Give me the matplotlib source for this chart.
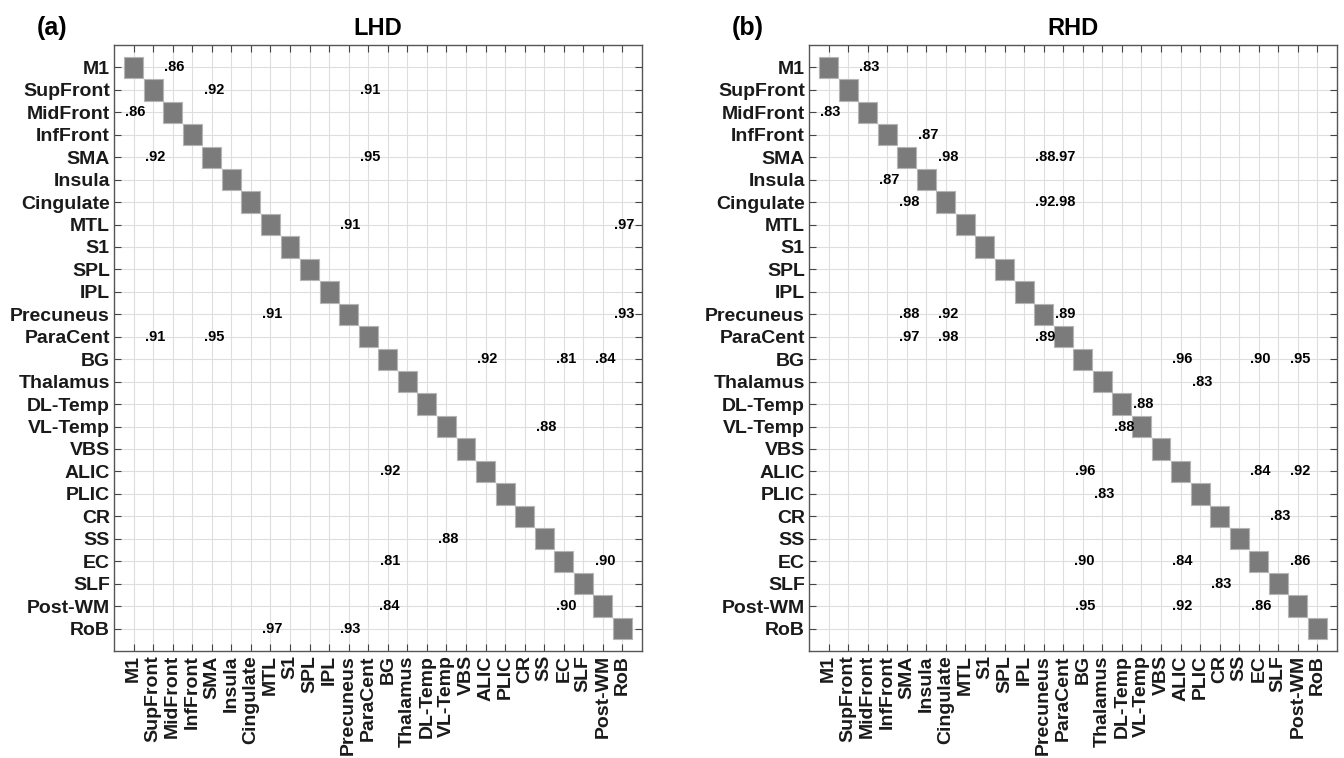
import matplotlib.pyplot as plt
from matplotlib.patches import Rectangle

plt.rcParams['font.family'] = ['Liberation Sans', 'DejaVu Sans']

regions = ['M1', 'SupFront', 'MidFront', 'InfFront', 'SMA', 'Insula', 'Cingulate',
           'MTL', 'S1', 'SPL', 'IPL', 'Precuneus', 'ParaCent', 'BG', 'Thalamus',
           'DL-Temp', 'VL-Temp', 'VBS', 'ALIC', 'PLIC', 'CR', 'SS', 'EC', 'SLF',
           'Post-WM', 'RoB']

# significant correlations (region, region, r) - drawn on both sides of the diagonal
lhd_pairs = [
    ('M1', 'MidFront', .86),
    ('SupFront', 'SMA', .92),
    ('SupFront', 'ParaCent', .91),
    ('SMA', 'ParaCent', .95),
    ('MTL', 'Precuneus', .91),
    ('MTL', 'RoB', .97),
    ('Precuneus', 'RoB', .93),
    ('BG', 'ALIC', .92),
    ('BG', 'EC', .81),
    ('BG', 'Post-WM', .84),
    ('VL-Temp', 'SS', .88),
    ('EC', 'Post-WM', .90),
]

rhd_pairs = [
    ('M1', 'MidFront', .83),
    ('InfFront', 'Insula', .87),
    ('SMA', 'Cingulate', .98),
    ('SMA', 'Precuneus', .88),
    ('SMA', 'ParaCent', .97),
    ('Cingulate', 'Precuneus', .92),
    ('Cingulate', 'ParaCent', .98),
    ('Precuneus', 'ParaCent', .89),
    ('BG', 'ALIC', .96),
    ('BG', 'EC', .90),
    ('BG', 'Post-WM', .95),
    ('Thalamus', 'PLIC', .83),
    ('DL-Temp', 'VL-Temp', .88),
    ('ALIC', 'EC', .84),
    ('ALIC', 'Post-WM', .92),
    ('CR', 'SLF', .83),
    ('EC', 'Post-WM', .86),
]

panels = [('(a)', 'LHD', lhd_pairs), ('(b)', 'RHD', rhd_pairs)]


def draw_panel(ax, title, pairs):
    n = len(regions)
    ax.set_xlim(-1, n)
    ax.set_ylim(n, -1)
    ax.set_xticks(range(n))
    ax.set_yticks(range(n))
    ax.set_xticklabels(regions, rotation=90, fontsize=14, fontweight='bold')
    ax.set_yticklabels(regions, fontsize=14, fontweight='bold')
    ax.tick_params(direction='in', length=5, width=0.8, color='#444444',
                   labelcolor='#1a1a1a', top=True, right=True, pad=3)
    ax.grid(True, color='#dedede', linewidth=0.8)
    ax.set_axisbelow(True)
    for sp in ax.spines.values():
        sp.set_color('#555555')
        sp.set_linewidth(1.0)

    # diagonal cells
    for i in range(n):
        ax.add_patch(Rectangle((i - 0.485, i - 0.475), 0.97, 0.95,
                               facecolor='#7b7b7b', edgecolor='#b5b5b5',
                               linewidth=0.8, zorder=3))

    idx = {r: k for k, r in enumerate(regions)}
    for a, b, r in pairs:
        lab = ('%.2f' % r)[1:]
        for row, col in ((idx[a], idx[b]), (idx[b], idx[a])):
            ax.text(col + 0.1, row, lab, ha='center', va='center',
                    fontsize=10.5, fontweight='bold', zorder=4)

    ax.set_title(title, fontsize=17, fontweight='bold', pad=7)


fig = plt.figure(figsize=(13.44, 7.58), dpi=100)
lefts = [0.0848, 0.6019]
for (tag, title, pairs), left in zip(panels, lefts):
    ax = fig.add_axes([left, 0.1412, 0.3929, 0.7995])
    draw_panel(ax, title, pairs)
    fig.text(left - 0.0575, 0.979, tag, fontsize=18, fontweight='bold',
             ha='left', va='top')

fig.savefig('out.png', dpi=100)
